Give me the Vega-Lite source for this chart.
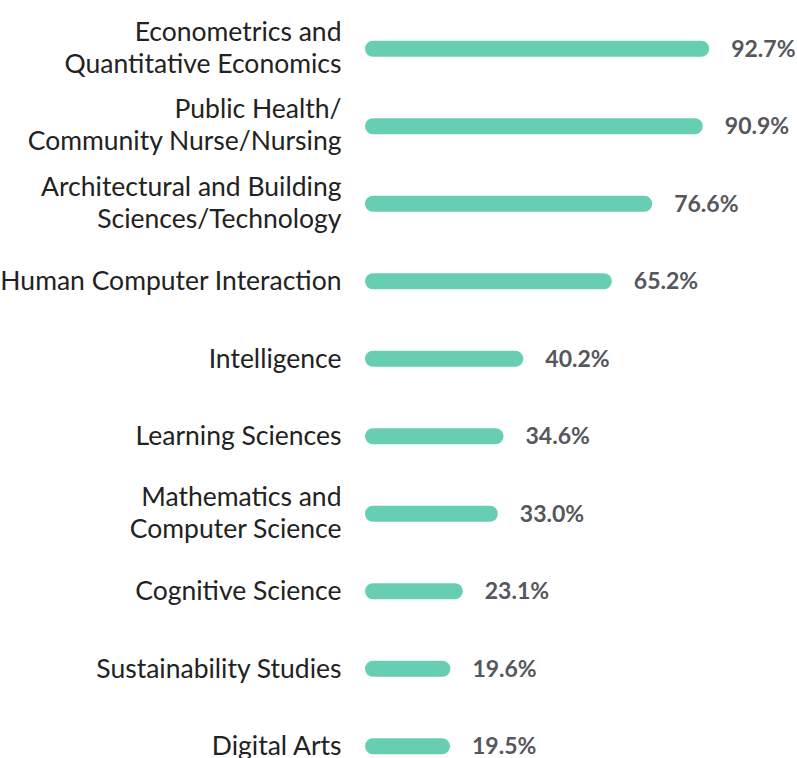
{
  "$schema": "https://vega.github.io/schema/vega-lite/v6.json",
  "autosize": "none",
  "width": 354,
  "height": 775,
  "padding": {"left": 373, "top": 10, "right": 70, "bottom": 0},
  "background": "white",
  "config": {"view": {"stroke": null}, "font": "Lato"},
  "data": {
    "values": [
      {"field": "Econometrics and|Quantitative Economics", "pct": 92.7},
      {"field": "Public Health/|Community Nurse/Nursing", "pct": 90.9},
      {"field": "Architectural and Building|Sciences/Technology", "pct": 76.6},
      {"field": "Human Computer Interaction", "pct": 65.2},
      {"field": "Intelligence", "pct": 40.2},
      {"field": "Learning Sciences", "pct": 34.6},
      {"field": "Mathematics and|Computer Science", "pct": 33.0},
      {"field": "Cognitive Science", "pct": 23.1},
      {"field": "Sustainability Studies", "pct": 19.6},
      {"field": "Digital Arts", "pct": 19.5}
    ]
  },
  "encoding": {
    "y": {
      "field": "field",
      "type": "nominal",
      "sort": null,
      "scale": {"paddingInner": 0, "paddingOuter": 0},
      "axis": {
        "title": null,
        "domain": false,
        "ticks": false,
        "labelPadding": 32,
        "labelFont": "Lato",
        "labelFontSize": 26.5,
        "labelColor": "#222222",
        "labelLineHeight": 32,
        "labelLimit": 400,
        "labelOffset": {"condition": {"test": "indexof(datum.label, '|') >= 0", "value": -16}, "value": 1},
        "labelExpr": "split(datum.label, '|')"
      }
    },
    "x": {"field": "pct", "type": "quantitative", "scale": {"domain": [0, 100]}, "axis": null}
  },
  "layer": [
    {
      "mark": {"type": "rule", "strokeWidth": 16, "strokeCap": "round", "color": "#67cdb3"},
      "encoding": {
        "x2": {"datum": 0}
      }
    },
    {
      "mark": {"type": "text", "align": "left", "baseline": "middle", "dx": 30, "dy": 1, "font": "Lato", "fontSize": 23, "fontWeight": "bold", "color": "#55575c", "text": {"expr": "format(datum.pct, '.1f') + '%'"}},
      "encoding": {}
    }
  ]
}
